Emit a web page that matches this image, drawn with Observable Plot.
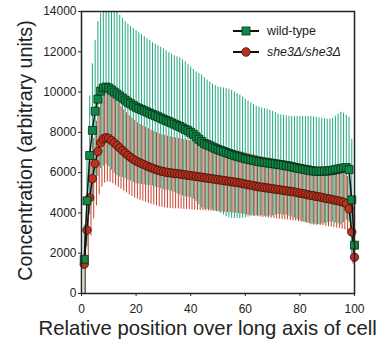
<!DOCTYPE html>
<html><head><meta charset="utf-8">
<script src="https://cdn.jsdelivr.net/npm/d3@7"></script>
<script src="https://cdn.jsdelivr.net/npm/@observablehq/plot@0.6"></script>
<style>
body{margin:0;background:#fff;}
#chart{position:relative;width:378px;height:339px;overflow:hidden;}
#chart svg.plot{display:block;}
.legend{position:absolute;left:0;top:0;font-family:"Liberation Sans",Arial,sans-serif;font-size:12.4px;color:#222;}
.legend .row{position:absolute;left:0;display:flex;align-items:center;height:16px;white-space:nowrap;}
.legend .row span{margin-left:8px;}
</style></head><body><div id="chart"></div>
<script>
// Bin positions along the cell axis (1..100)
const position = d3.range(1, 101);
const seriesNames = ["wild-type", "she3Δ/she3Δ"];
const xTicks = [0, 20, 40, 60, 80, 100];
const yTicks = [0, 2000, 4000, 6000, 8000, 10000, 12000, 14000];
const xLabel = "Relative position over long axis of cell";
const yLabel = "Concentration (arbitrary units)";

const wtMean = [
 1700,4600,6850,8100,9050,9650,10050,10200,10250,10200,
 10100,10000,9900,9800,9700,9600,9500,9420,9330,9250,
 9190,9130,9070,9010,8950,8890,8830,8770,8710,8650,
 8590,8530,8470,8410,8350,8290,8220,8150,8080,8000,
 7900,7780,7660,7550,7450,7390,7330,7270,7210,7150,
 7100,7050,7000,6950,6900,6860,6820,6780,6740,6700,
 6670,6640,6610,6580,6550,6530,6510,6490,6470,6450,
 6430,6410,6390,6370,6350,6320,6290,6260,6230,6200,
 6180,6150,6130,6100,6080,6070,6070,6070,6080,6080,
 6100,6120,6150,6180,6200,6230,6250,6150,4650,2400];
const wtSd = [
 1700,2300,2950,3300,3500,3850,3850,3880,3850,3900,
 3980,4050,4050,4020,3950,3900,3880,3830,3820,3800,
 3760,3720,3680,3640,3600,3560,3550,3530,3510,3500,
 3460,3420,3400,3390,3400,3410,3380,3350,3300,3250,
 3220,3220,3260,3300,3270,3210,3170,3130,3110,3100,
 3120,3150,3180,3200,3180,3140,3100,3070,3010,2950,
 2880,2810,2770,2720,2700,2670,2670,2660,2630,2600,
 2550,2490,2480,2480,2470,2480,2500,2520,2550,2580,
 2610,2630,2650,2690,2690,2680,2650,2630,2600,2570,
 2560,2580,2650,2720,2800,2720,2600,2600,3000,2400];
const she3Mean = [
 1450,3150,4750,5700,6450,7050,7480,7680,7730,7700,
 7600,7480,7350,7230,7100,6980,6860,6760,6660,6580,
 6510,6450,6390,6330,6270,6220,6170,6120,6080,6050,
 6020,6000,5980,5960,5950,5930,5910,5890,5870,5850,
 5830,5810,5790,5770,5750,5730,5710,5690,5670,5650,
 5630,5610,5590,5570,5550,5530,5510,5490,5460,5430,
 5400,5380,5350,5320,5300,5280,5260,5240,5220,5200,
 5180,5160,5140,5120,5100,5080,5060,5040,5010,4980,
 4960,4930,4900,4870,4850,4820,4800,4770,4740,4710,
 4690,4660,4630,4600,4570,4530,4450,4200,3050,1800];
const she3Sd = [
 1450,1700,1900,2000,2100,2150,2200,2200,2200,2180,
 2150,2120,2080,2050,2020,1990,1960,1940,1920,1900,
 1880,1870,1860,1850,1840,1830,1820,1810,1800,1800,
 1790,1780,1770,1760,1750,1740,1730,1720,1710,1700,
 1690,1680,1670,1660,1650,1640,1630,1620,1610,1600,
 1590,1580,1570,1560,1560,1550,1550,1540,1540,1530,
 1530,1520,1520,1510,1500,1500,1490,1490,1480,1480,
 1470,1470,1460,1460,1450,1450,1450,1440,1440,1440,
 1430,1430,1420,1420,1420,1410,1410,1400,1400,1400,
 1390,1390,1380,1380,1370,1370,1360,1360,1600,1800];

const wt = position.map((x, i) => ({x, mean: wtMean[i], lo: wtMean[i] - wtSd[i], hi: wtMean[i] + wtSd[i]}));
const she3 = position.map((x, i) => ({x, mean: she3Mean[i], lo: she3Mean[i] - she3Sd[i], hi: she3Mean[i] + she3Sd[i]}));

const green = "#0d8a47", greenBar = "#22a880", red = "#b8321f", redBar = "#c8402c";

const plot = Plot.plot({
  width: 378, height: 339,
  marginLeft: 81, marginRight: 24, marginTop: 11, marginBottom: 46,
  style: {fontFamily: "'Liberation Sans', Arial, sans-serif", fontSize: "12px", color: "#222", background: "#fff", overflow: "visible"},
  x: {domain: [0, 100]},
  y: {domain: [0, 14000]},
  marks: [
    Plot.ruleX(wt, {x: "x", y1: "lo", y2: "hi", stroke: greenBar, strokeWidth: 1, clip: true}),
    Plot.ruleX(she3, {x: "x", y1: "lo", y2: "hi", stroke: redBar, strokeWidth: 1, dx: 1.3, clip: true}),
    Plot.line(she3, {x: "x", y: "mean", stroke: "#111", strokeWidth: 1.5}),
    Plot.dot(she3, {x: "x", y: "mean", r: 4.2, symbol: "circle", fill: red, stroke: "#3a0e06", strokeWidth: 0.8}),
    Plot.line(wt, {x: "x", y: "mean", stroke: "#111", strokeWidth: 1.5}),
    Plot.dot(wt, {x: "x", y: "mean", r: 4.5, symbol: "square", fill: green, stroke: "#0a2a14", strokeWidth: 0.8}),
    Plot.frame({stroke: "#222", strokeWidth: 1.5}),
    Plot.axisX({ticks: xTicks, tickSize: 3, tickPadding: 8, label: null, fontSize: 12}),
    Plot.axisY({ticks: yTicks, tickSize: 3, tickPadding: 2, label: null, fontSize: 12, tickFormat: d => String(d)}),
    Plot.text([xLabel], {text: d => d, frameAnchor: "bottom-left", dx: -43, dy: 35, textAnchor: "start", lineAnchor: "middle", fontSize: 20.3, fill: "#222"}),
    Plot.text([yLabel], {text: d => d, frameAnchor: "left", rotate: -90, dx: -55.5, dy: -2, textAnchor: "middle", lineAnchor: "middle", fontSize: 19.7, fill: "#222"})
  ]
});
const chart = document.getElementById("chart");
chart.appendChild(plot);

// Legend overlay
const legend = document.createElement("div");
legend.className = "legend";
const legendY = [23, 44];
seriesNames.forEach((name, i) => {
  const row = document.createElement("div");
  row.className = "row";
  row.style.top = legendY[i] + "px";
  row.style.left = "233px";
  const sw = i === 0
    ? `<svg width="26" height="16"><line x1="0" y1="8" x2="26" y2="8" stroke="#111" stroke-width="2"/><rect x="9" y="4" width="8" height="8" fill="${green}" stroke="#0a2a14" stroke-width="0.8"/></svg>`
    : `<svg width="26" height="16"><line x1="0" y1="8" x2="26" y2="8" stroke="#111" stroke-width="2"/><circle cx="13" cy="8" r="4.3" fill="${red}" stroke="#3a0e06" stroke-width="0.8"/></svg>`;
  row.innerHTML = sw + `<span style="${i === 1 ? "font-style:italic" : ""}">${name}</span>`;
  legend.appendChild(row);
});
chart.appendChild(legend);
</script>
</body></html>
